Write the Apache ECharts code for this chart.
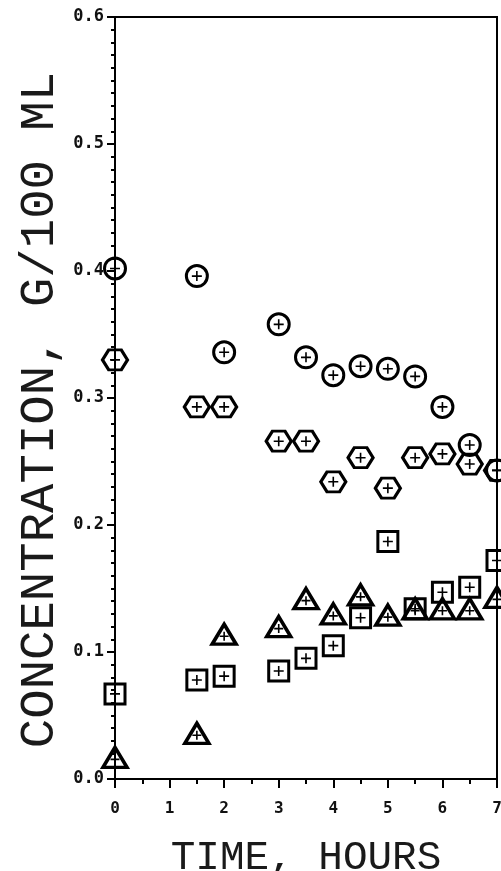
<!DOCTYPE html>
<html>
<head>
<meta charset="utf-8">
<script src="https://cdn.jsdelivr.net/npm/echarts@6/dist/echarts.min.js"></script>
<style>
html,body{margin:0;padding:0;background:#fff;}
#chart{width:501px;height:871px;}
</style>
</head>
<body>
<div id="chart"></div>
<script>
const hours = [0, 1.5, 2, 3, 3.5, 4, 4.5, 5, 5.5, 6, 6.5, 7];
const circleVals = [0.402, 0.396, 0.336, 0.358, 0.332, 0.318, 0.325, 0.323, 0.317, 0.293, 0.263, 0.243];
const hexagonVals = [0.330, 0.293, 0.293, 0.266, 0.266, 0.234, 0.253, 0.229, 0.253, 0.256, 0.248, 0.243];
const squareVals = [0.067, 0.078, 0.081, 0.085, 0.095, 0.105, 0.127, 0.187, 0.134, 0.147, 0.151, 0.172];
const triangleVals = [0.017, 0.036, 0.114, 0.120, 0.142, 0.130, 0.145, 0.129, 0.134, 0.134, 0.134, 0.143];
const xTicks = [0, 1, 2, 3, 4, 5, 6, 7];
const yTicks = [0.0, 0.1, 0.2, 0.3, 0.4, 0.5, 0.6];
const xTitle = 'TIME, HOURS';
const yTitle = 'CONCENTRATION, G/100 ML';

const pair = (vals) => hours.map((h, i) => [h, vals[i]]);
const PLUS = 'path://M0,5L10,5M5,0L5,10';
const HEX = 'path://M0,5L2.5,0L7.5,0L10,5L7.5,10L2.5,10Z';

function outline(name, vals, symbol, size, bw) {
  return {
    name: name, type: 'scatter', data: pair(vals), symbol: symbol, symbolSize: size,
    symbolKeepAspect: false, clip: false, z: 3,
    itemStyle: { color: 'rgba(0,0,0,0)', borderColor: '#000', borderWidth: bw || 3, opacity: 1 },
    emphasis: { disabled: true }
  };
}
function plus(name, vals, size, offset) {
  return {
    name: name + ' plus', type: 'scatter', data: pair(vals), symbol: PLUS, symbolSize: size,
    symbolOffset: offset || [0, 0], clip: false, z: 4,
    itemStyle: { color: 'rgba(0,0,0,0)', borderColor: '#000', borderWidth: 1.6, opacity: 1 },
    emphasis: { disabled: true }
  };
}

const chart = echarts.init(document.getElementById('chart'), null, { renderer: 'canvas' });
const monoFont = 'DejaVu Sans Mono';
const titleFont = 'Liberation Mono';
chart.setOption({
  animation: false,
  backgroundColor: '#fff',
  grid: { left: 115, right: 4, top: 17, bottom: 92, containLabel: false, outerBoundsMode: 'none',
    show: true, borderColor: '#000', borderWidth: 2, backgroundColor: 'transparent' },
  xAxis: {
    type: 'value', min: 0, max: 7, interval: 1,
    name: xTitle, nameLocation: 'middle', nameGap: 59,
    nameTextStyle: { fontFamily: titleFont, fontSize: 41, color: '#1a1a1a' },
    axisLine: { show: true, lineStyle: { color: '#000', width: 2 } },
    axisTick: { show: true, inside: false, length: 9, lineStyle: { color: '#000', width: 2 } },
    minorTick: { show: true, splitNumber: 2, length: 5, lineStyle: { color: '#000', width: 2 } },
    splitLine: { show: false },
    axisLabel: { margin: 22, fontFamily: monoFont, fontSize: 16, fontWeight: 'bold', color: '#111',
      formatter: v => xTicks.includes(v) ? String(v) : '' }
  },
  yAxis: {
    type: 'value', min: 0, max: 0.6, interval: 0.1,
    axisLine: { show: true, lineStyle: { color: '#000', width: 2 } },
    axisTick: { show: true, inside: false, length: 8, lineStyle: { color: '#000', width: 2 } },
    minorTick: { show: true, splitNumber: 10, length: 4, lineStyle: { color: '#000', width: 2 } },
    splitLine: { show: false },
    axisLabel: { margin: 11, fontFamily: monoFont, fontSize: 17, fontWeight: 'bold', color: '#111',
      formatter: v => { const t = yTicks.find(k => Math.abs(k - v) < 1e-9); return t === undefined ? '' : t.toFixed(1); } }
  },
  graphic: [{
    type: 'text', x: 40, y: 410, rotation: Math.PI / 2,
    style: { text: yTitle, fontFamily: titleFont, fontSize: 49, fill: '#1a1a1a', align: 'center', verticalAlign: 'middle' }
  }],
  series: [
    outline('circle', circleVals, 'circle', 21),
    plus('circle', circleVals, 10),
    outline('hexagon', hexagonVals, HEX, [25, 20]),
    plus('hexagon', hexagonVals, 10),
    outline('square', squareVals, 'rect', 20),
    plus('square', squareVals, 10),
    outline('triangle', triangleVals, 'triangle', [24, 20], 3.5),
    plus('triangle', triangleVals, 9, [0, 2])
  ]
});
</script>
</body>
</html>
